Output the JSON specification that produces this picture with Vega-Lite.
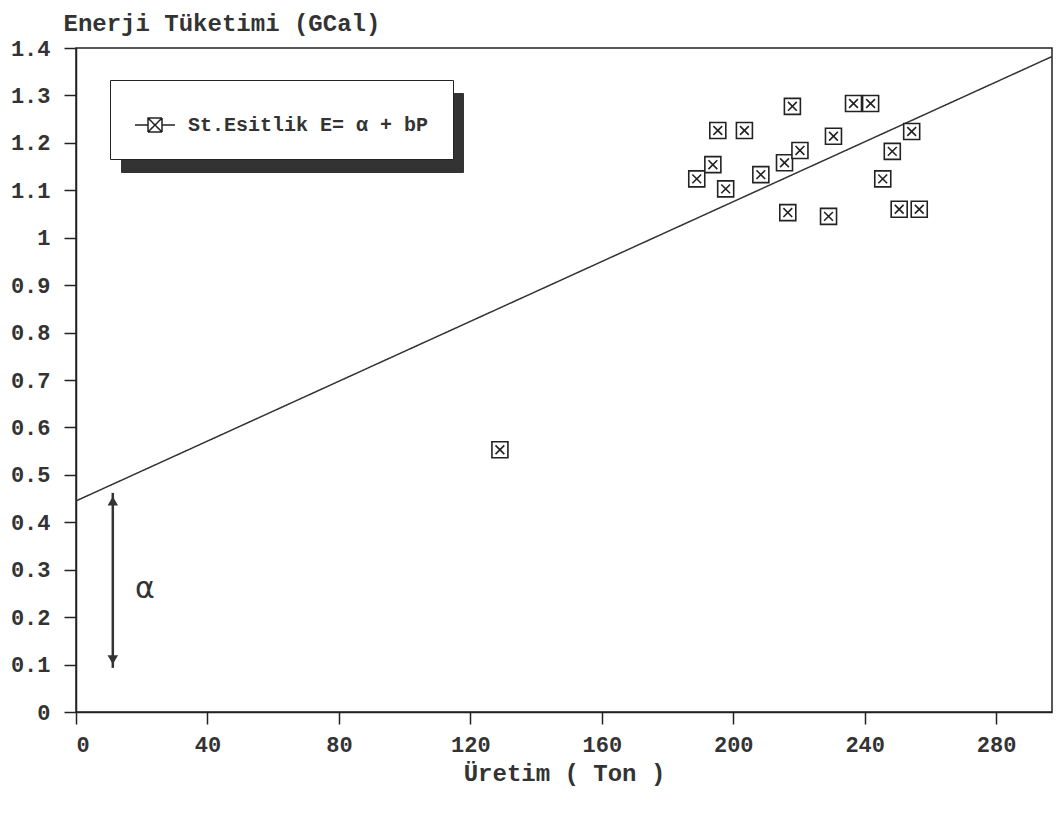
{
  "$schema": "https://vega.github.io/schema/vega-lite/v6.json",
  "width": 976,
  "height": 664,
  "autosize": "none",
  "padding": {"left": 76, "top": 48, "right": 7, "bottom": 101},
  "background": "white",
  "config": {
    "font": "Liberation Mono",
    "view": {"stroke": "#222", "strokeWidth": 1.5},
    "axis": {
      "grid": false,
      "domainColor": "#222",
      "domainWidth": 1.5,
      "tickColor": "#222",
      "tickWidth": 1.5,
      "tickSize": 12,
      "labelFont": "Liberation Mono",
      "labelFontSize": 22,
      "labelFontWeight": "bold",
      "labelColor": "#333",
      "titleFont": "Liberation Mono",
      "titleFontSize": 24,
      "titleFontWeight": "bold",
      "titleColor": "#333"
    }
  },
  "datasets": {
    "points": [
      {"uretim": 188.9, "enerji": 1.124},
      {"uretim": 193.8, "enerji": 1.154},
      {"uretim": 195.3, "enerji": 1.226},
      {"uretim": 197.7, "enerji": 1.103},
      {"uretim": 203.4, "enerji": 1.226},
      {"uretim": 208.4, "enerji": 1.133},
      {"uretim": 218.0, "enerji": 1.277},
      {"uretim": 215.6, "enerji": 1.158},
      {"uretim": 220.3, "enerji": 1.184},
      {"uretim": 216.6, "enerji": 1.053},
      {"uretim": 230.5, "enerji": 1.214},
      {"uretim": 229.0, "enerji": 1.045},
      {"uretim": 236.6, "enerji": 1.283},
      {"uretim": 241.8, "enerji": 1.283},
      {"uretim": 254.3, "enerji": 1.224},
      {"uretim": 248.4, "enerji": 1.182},
      {"uretim": 245.5, "enerji": 1.124},
      {"uretim": 250.5, "enerji": 1.060},
      {"uretim": 256.6, "enerji": 1.060},
      {"uretim": 129.0, "enerji": 0.553}
    ],
    "fit": [
      {"uretim": 0, "enerji": 0.445},
      {"uretim": 297, "enerji": 1.382}
    ],
    "arrow": [
      {"uretim": 11.2, "enerji": 0.093, "enerji2": 0.462}
    ],
    "arrowheads": [
      {"uretim": 11.2, "enerji": 0.445, "end": "top"},
      {"uretim": 11.2, "enerji": 0.11, "end": "bottom"}
    ],
    "alpha": [
      {"uretim": 21, "enerji": 0.26, "label": "α"}
    ]
  },
  "layer": [
    {
      "data": {"name": "fit"},
      "mark": {"type": "line", "strokeWidth": 1.5, "clip": true},
      "encoding": {
        "x": {
          "field": "uretim", "type": "quantitative",
          "scale": {"domain": [0, 297], "nice": false, "zero": false},
          "axis": {
            "values": [0, 40, 80, 120, 160, 200, 240, 280],
            "title": "Üretim ( Ton )",
            "labelPadding": 10,
            "titlePadding": 6
          }
        },
        "y": {
          "field": "enerji", "type": "quantitative",
          "scale": {"domain": [0, 1.4], "nice": false},
          "axis": {
            "values": [0, 0.1, 0.2, 0.3, 0.4, 0.5, 0.6, 0.7, 0.8, 0.9, 1, 1.1, 1.2, 1.3, 1.4],
            "format": "~g",
            "labelPadding": 14,
            "title": "Enerji Tüketimi (GCal)",
            "titleAngle": 0,
            "titleAlign": "left",
            "titleBaseline": "alphabetic",
            "titleX": -13,
            "titleY": -18
          }
        },
        "color": {
          "datum": "\u00a0",
          "type": "nominal",
          "scale": {"range": ["#333"]},
          "legend": {
            "orient": "none",
            "legendX": 45,
            "legendY": 45,
            "title": null,
            "symbolType": "M-1,0H-0.35M0.35,0H1M-0.35,-0.35H0.35V0.35H-0.35ZM-0.35,-0.35L0.35,0.35M0.35,-0.35L-0.35,0.35",
            "symbolSize": 1600,
            "symbolStrokeWidth": 1.5,
            "labelFontSize": 20,
            "labelFont": "Liberation Mono",
            "labelFontWeight": "bold",
            "labelColor": "#333",
            "labelOffset": 252,
            "labelLimit": 500,
            "padding": 24,
            "fillColor": "#333",
            "strokeColor": "#333"
          }
        },
        "strokeDash": {
          "datum": "St.Esitlik E= α + bP",
          "type": "nominal",
          "scale": {"range": [[1, 0]]},
          "legend": {
            "orient": "none",
            "legendX": 34,
            "legendY": 32,
            "title": null,
            "symbolType": "M-1,0H-0.35M0.35,0H1M-0.35,-0.35H0.35V0.35H-0.35ZM-0.35,-0.35L0.35,0.35M0.35,-0.35L-0.35,0.35",
            "symbolSize": 1600,
            "symbolStrokeWidth": 1.5,
            "symbolStrokeColor": "#222",
            "symbolFillColor": "white",
            "labelFontSize": 20,
            "labelFont": "Liberation Mono",
            "labelFontWeight": "bold",
            "labelColor": "#333",
            "labelOffset": 12,
            "labelLimit": 500,
            "padding": 24,
            "fillColor": "white",
            "strokeColor": "#222"
          }
        }
      }
    },
    {
      "data": {"name": "points"},
      "mark": {
        "type": "point",
        "shape": "M-1,-1H1V1H-1ZM-0.55,-0.55L0.55,0.55M0.55,-0.55L-0.55,0.55",
        "size": 256,
        "fill": "white",
        "stroke": "#222",
        "strokeWidth": 1.6,
        "opacity": 1,
        "filled": false
      },
      "encoding": {
        "x": {"field": "uretim", "type": "quantitative"},
        "y": {"field": "enerji", "type": "quantitative"}
      }
    },
    {
      "data": {"name": "arrow"},
      "mark": {"type": "rule", "strokeWidth": 2.5, "color": "#333"},
      "encoding": {
        "x": {"field": "uretim", "type": "quantitative"},
        "y": {"field": "enerji", "type": "quantitative"},
        "y2": {"field": "enerji2"}
      }
    },
    {
      "data": {"name": "arrowheads"},
      "mark": {"type": "point", "filled": true, "color": "#333", "size": 110, "opacity": 1},
      "encoding": {
        "x": {"field": "uretim", "type": "quantitative"},
        "y": {"field": "enerji", "type": "quantitative"},
        "shape": {
          "field": "end", "type": "nominal",
          "scale": {"domain": ["top", "bottom"], "range": ["triangle-up", "triangle-down"]},
          "legend": null
        }
      }
    },
    {
      "data": {"name": "alpha"},
      "mark": {"type": "text", "font": "DejaVu Sans", "fontSize": 30, "color": "#333", "align": "center", "baseline": "middle"},
      "encoding": {
        "x": {"field": "uretim", "type": "quantitative"},
        "y": {"field": "enerji", "type": "quantitative"},
        "text": {"field": "label"}
      }
    }
  ]
}
